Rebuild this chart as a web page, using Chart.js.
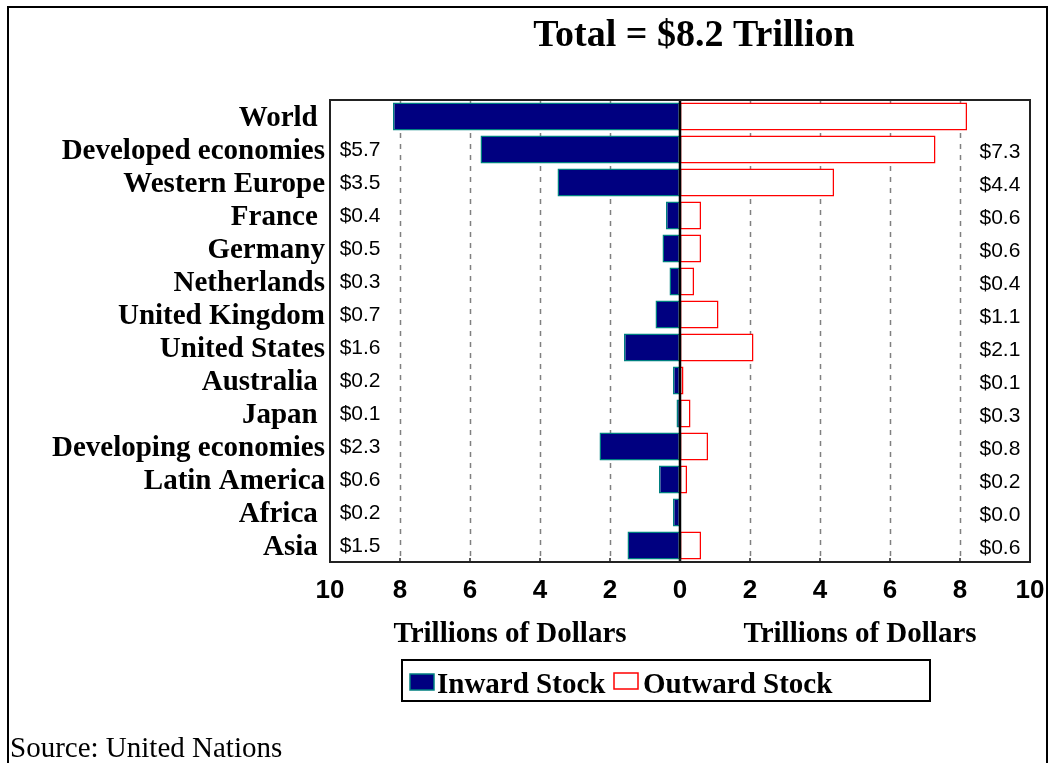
<!DOCTYPE html>
<html>
<head>
<meta charset="utf-8">
<script src="https://cdn.jsdelivr.net/npm/chart.js@4/dist/chart.umd.min.js"></script>
<style>
    html, body { margin: 0; padding: 0; background: #ffffff; }
    #wrap { width: 1049px; height: 763px; overflow: hidden; }
</style>
</head>
<body>
<div id="wrap"><canvas id="fdiChart" width="1049" height="763"></canvas></div>
<script>
// Data
const categories = ['World ', 'Developed economies', 'Western Europe', 'France ', 'Germany', 'Netherlands',
    'United Kingdom', 'United States', 'Australia ', 'Japan ', 'Developing economies', 'Latin America', 'Africa ', 'Asia '];
const inwardStock = [8.2, 5.7, 3.5, 0.4, 0.5, 0.3, 0.7, 1.6, 0.2, 0.1, 2.3, 0.6, 0.2, 1.5];
const outwardStock = [8.2, 7.3, 4.4, 0.6, 0.6, 0.4, 1.1, 2.1, 0.1, 0.3, 0.8, 0.2, 0.03, 0.6];
const inwardLabels = ['', '$5.7', '$3.5', '$0.4', '$0.5', '$0.3', '$0.7', '$1.6', '$0.2', '$0.1', '$2.3', '$0.6', '$0.2', '$1.5'];
const outwardLabels = ['', '$7.3', '$4.4', '$0.6', '$0.6', '$0.4', '$1.1', '$2.1', '$0.1', '$0.3', '$0.8', '$0.2', '$0.0', '$0.6'];
const xTicks = [-10, -8, -6, -4, -2, 0, 2, 4, 6, 8, 10];
const seriesNames = ['Inward Stock', 'Outward Stock'];
const titleText = 'Total = $8.2 Trillion';
const axisTitle = 'Trillions of Dollars';
const sourceText = 'Source: United Nations';

const SERIF = '"Liberation Serif", "Times New Roman", serif';
const SANS = '"Liberation Sans", Arial, sans-serif';
const NAVY = '#000080';
const TEAL = '#008080';
const RED = '#ff0000';

// Everything drawn around the bars
const decorPlugin = {
    id: 'decor',
    beforeDatasetsDraw(chart) {
        const { ctx, chartArea: a, scales: { x } } = chart;
        ctx.save();
        ctx.strokeStyle = '#808080';
        ctx.lineWidth = 1.5;
        ctx.setLineDash([5, 6]);
        xTicks.forEach(t => {
            if (t === 0 || Math.abs(t) === 10) return;
            const px = Math.round(x.getPixelForValue(t)) + 0.5;
            ctx.beginPath();
            ctx.moveTo(px, a.top);
            ctx.lineTo(px, a.bottom);
            ctx.stroke();
        });
        ctx.restore();
    },
    afterDatasetsDraw(chart) {
        const { ctx, chartArea: a, scales: { x, y } } = chart;
        ctx.save();

        // zero line
        const zx = x.getPixelForValue(0);
        ctx.strokeStyle = '#000';
        ctx.lineWidth = 2.5;
        ctx.beginPath();
        ctx.moveTo(zx, a.top);
        ctx.lineTo(zx, a.bottom);
        ctx.stroke();

        // plot frame
        ctx.strokeStyle = '#222';
        ctx.lineWidth = 2;
        ctx.strokeRect(a.left, a.top, a.right - a.left, a.bottom - a.top);

        // small tick marks on the bottom edge
        ctx.lineWidth = 1.5;
        xTicks.forEach(t => {
            const px = x.getPixelForValue(t);
            ctx.beginPath();
            ctx.moveTo(px, a.bottom);
            ctx.lineTo(px, a.bottom - 4);
            ctx.stroke();
        });

        // value labels
        ctx.fillStyle = '#000';
        ctx.font = '21px ' + SANS;
        ctx.textAlign = 'center';
        ctx.textBaseline = 'middle';
        categories.forEach((c, i) => {
            const py = y.getPixelForValue(i);
            if (inwardLabels[i]) ctx.fillText(inwardLabels[i], x.getPixelForValue(-9.14), py + 1);
            if (outwardLabels[i]) ctx.fillText(outwardLabels[i], x.getPixelForValue(9.14), py + 3);
        });
        ctx.restore();
    },
    afterDraw(chart) {
        const { ctx, scales: { x } } = chart;
        ctx.save();
        ctx.fillStyle = '#000';
        ctx.textBaseline = 'alphabetic';

        // title
        ctx.font = 'bold 38px ' + SERIF;
        ctx.textAlign = 'center';
        ctx.fillText(titleText, 694, 46);

        // axis titles
        ctx.font = 'bold 29px ' + SERIF;
        ctx.fillText(axisTitle, x.getPixelForValue(-5) + 5, 642);
        ctx.fillText(axisTitle, x.getPixelForValue(5) + 5, 642);

        // legend
        ctx.strokeStyle = '#000';
        ctx.lineWidth = 2;
        ctx.strokeRect(402, 660, 528, 41);
        ctx.fillStyle = NAVY;
        ctx.fillRect(410, 674, 24, 16);
        ctx.strokeStyle = TEAL;
        ctx.lineWidth = 1.5;
        ctx.strokeRect(410, 674, 24, 16);
        ctx.fillStyle = '#fff';
        ctx.fillRect(614, 673, 24, 16);
        ctx.strokeStyle = RED;
        ctx.strokeRect(614, 673, 24, 16);
        ctx.fillStyle = '#000';
        ctx.textAlign = 'left';
        ctx.fillText(seriesNames[0], 437, 693);
        ctx.fillText(seriesNames[1], 643, 693);

        // source
        ctx.font = '29px ' + SERIF;
        ctx.fillText(sourceText, 10, 757);

        // outer frame
        ctx.strokeStyle = '#000';
        ctx.lineWidth = 2;
        ctx.beginPath();
        ctx.moveTo(8, 800);
        ctx.lineTo(8, 7);
        ctx.lineTo(1047, 7);
        ctx.lineTo(1047, 800);
        ctx.stroke();
        ctx.restore();
    }
};

new Chart(document.getElementById('fdiChart'), {
    type: 'bar',
    data: {
        labels: categories,
        datasets: [{
            label: seriesNames[0],
            data: inwardStock.map(v => -v),
            backgroundColor: NAVY,
            borderColor: TEAL,
            borderWidth: 1.5,
            borderSkipped: false,
            barPercentage: 0.85,
            categoryPercentage: 1
        }, {
            label: seriesNames[1],
            data: outwardStock,
            backgroundColor: '#ffffff',
            borderColor: RED,
            borderWidth: 1.5,
            borderSkipped: false,
            barPercentage: 0.85,
            categoryPercentage: 1
        }]
    },
    options: {
        indexAxis: 'y',
        responsive: false,
        animation: false,
        layout: { padding: { top: 100, right: 19, bottom: 0, left: 0 } },
        plugins: {
            legend: { display: false },
            tooltip: { enabled: false }
        },
        scales: {
            x: {
                type: 'linear',
                stacked: true,
                min: -10,
                max: 10,
                afterBuildTicks: scale => { scale.ticks = xTicks.map(v => ({ value: v })); },
                afterFit: scale => {
                    scale.height = 201;
                    scale.paddingLeft = 0;
                    scale.paddingRight = 0;
                },
                grid: { display: false, drawTicks: false },
                border: { display: false },
                ticks: {
                    color: '#000',
                    font: { family: SANS, size: 26, weight: 'bold' },
                    padding: 13,
                    maxRotation: 0,
                    callback: v => Math.abs(v)
                }
            },
            y: {
                stacked: true,
                afterFit: scale => {
                    scale.width = 330;
                    scale.paddingTop = 0;
                    scale.paddingBottom = 0;
                },
                grid: { display: false, drawTicks: false },
                border: { display: false },
                ticks: {
                    autoSkip: false,
                    color: '#000',
                    font: { family: SERIF, size: 29, weight: 'bold' },
                    padding: 5,
                    labelOffset: 2
                }
            }
        }
    },
    plugins: [decorPlugin]
});
</script>
</body>
</html>
